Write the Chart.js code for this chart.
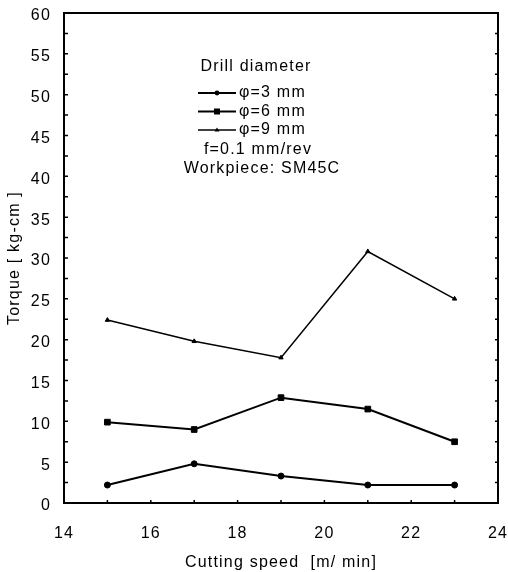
<!DOCTYPE html>
<html>
<head>
<meta charset="utf-8">
<script src="https://cdn.jsdelivr.net/npm/chart.js@4.4.1/dist/chart.umd.min.js"></script>
<style>
  html, body { margin: 0; padding: 0; background: #fff; }
  #wrap { width: 508px; height: 572px; }
</style>
</head>
<body>
<div id="wrap"><canvas id="torque" width="508" height="572"></canvas></div>
<script>
const speeds  = [15, 17, 19, 21, 23];
const torque3 = [2.2, 4.8, 3.3, 2.2, 2.2];
const torque6 = [9.9, 9.0, 12.9, 11.5, 7.5];
const torque9 = [22.4, 19.8, 17.8, 30.8, 25.0];
const seriesLabels = ['φ=3 mm', 'φ=6 mm', 'φ=9 mm'];
const legendTitle = 'Drill diameter';
const noteLines = ['f=0.1 mm/rev', 'Workpiece: SM45C'];

const FONT = "'Liberation Sans', Arial, sans-serif";

function series(label, values, style, radius, width) {
  return {
    label,
    data: speeds.map((s, i) => ({ x: s, y: values[i] })),
    borderColor: '#000',
    backgroundColor: '#000',
    borderWidth: width,
    pointStyle: style,
    pointRadius: radius,
    pointBackgroundColor: '#000',
    pointBorderColor: '#000',
    pointBorderWidth: 1,
    tension: 0,
  };
}

// frame, inward tick marks and the in-plot legend/notes
const decorations = {
  id: 'decorations',
  beforeDraw(chart) {
    chart.ctx.letterSpacing = '1.2px';
  },
  afterDatasetsDraw(chart) {
    const { ctx, chartArea: a, scales: { x, y } } = chart;
    ctx.save();
    ctx.strokeStyle = '#000';
    ctx.lineWidth = 1.5;
    ctx.beginPath();
    for (let v = 2.5; v < 60; v += 2.5) {
      const py = y.getPixelForValue(v);
      ctx.moveTo(a.left, py); ctx.lineTo(a.left + 4, py);
      ctx.moveTo(a.right, py); ctx.lineTo(a.right - 3, py);
    }
    for (let v = 15; v < 24; v++) {
      const px = x.getPixelForValue(v);
      ctx.moveTo(px, a.bottom); ctx.lineTo(px, a.bottom - 3);
    }
    ctx.stroke();
    ctx.lineWidth = 2;
    ctx.strokeRect(a.left, a.top, a.right - a.left, a.bottom - a.top);

    // legend
    ctx.fillStyle = '#000';
    ctx.font = '16px ' + FONT;
    ctx.textBaseline = 'middle';
    ctx.textAlign = 'center';
    ctx.fillText(legendTitle, 256, 67);
    chart.data.datasets.forEach((ds, i) => {
      const ly = 93 + i * 18.5;
      ctx.lineWidth = ds.borderWidth;
      ctx.beginPath();
      ctx.moveTo(198, ly); ctx.lineTo(236, ly);
      ctx.stroke();
      const r = ds.pointRadius;
      ctx.beginPath();
      if (ds.pointStyle === 'rect') {
        ctx.rect(217 - r * 0.75, ly - r * 0.75, r * 1.5, r * 1.5);
      } else if (ds.pointStyle === 'triangle') {
        ctx.moveTo(217, ly - r); ctx.lineTo(217 + r, ly + r * 0.6); ctx.lineTo(217 - r, ly + r * 0.6);
        ctx.closePath();
      } else {
        ctx.arc(217, ly, r * 0.8, 0, Math.PI * 2);
      }
      ctx.fill();
      ctx.textAlign = 'left';
      ctx.fillText(ds.label, 239, ly);
    });
    ctx.textAlign = 'center';
    noteLines.forEach((t, i) => ctx.fillText(t, 258 + i * 4, 150 + i * 19));
    ctx.restore();
  }
};

new Chart(document.getElementById('torque'), {
  type: 'line',
  data: {
    datasets: [
      series(seriesLabels[0], torque3, 'circle', 3, 2),
      series(seriesLabels[1], torque6, 'rect', 4, 2),
      series(seriesLabels[2], torque9, 'triangle', 2.5, 1.5),
    ]
  },
  options: {
    responsive: false,
    animation: false,
    layout: { padding: { left: 0, top: 13, right: 10, bottom: 0 } },
    plugins: { legend: { display: false }, tooltip: { enabled: false } },
    scales: {
      x: {
        type: 'linear',
        min: 14, max: 24,
        afterFit(scale) { scale.height = 69; scale.paddingLeft = 0; scale.paddingRight = 0; },
        grid: { display: false, drawTicks: false },
        border: { display: false },
        ticks: { stepSize: 2, padding: 21, color: '#000', font: { family: FONT, size: 16 } },
        title: {
          display: true, text: 'Cutting speed  [m/ min]', color: '#000',
          font: { family: FONT, size: 16 }, padding: { top: 4, bottom: 0 }
        }
      },
      y: {
        min: 0, max: 60,
        afterFit(scale) { scale.width = 64; scale.paddingTop = 0; scale.paddingBottom = 0; },
        grid: { display: false, drawTicks: false },
        border: { display: false },
        ticks: { stepSize: 5, padding: 13, labelOffset: 3, color: '#000', font: { family: FONT, size: 16 } },
        title: {
          display: true, text: 'Torque [ kg-cm ]', color: '#000',
          font: { family: FONT, size: 16 }, padding: { top: 5, bottom: 0 }
        }
      }
    }
  },
  plugins: [decorations]
});
</script>
</body>
</html>
